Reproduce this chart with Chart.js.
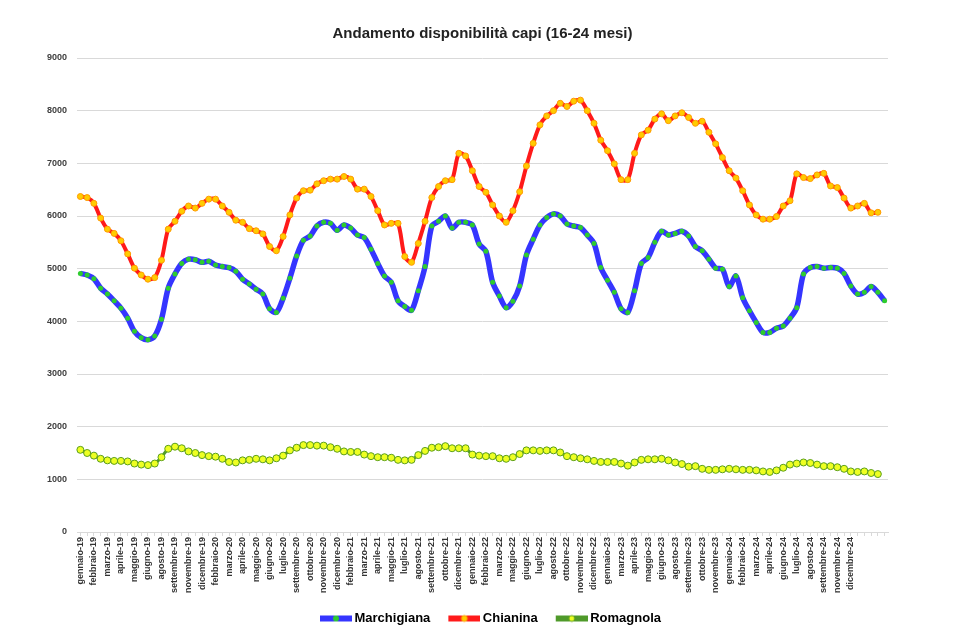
<!DOCTYPE html>
<html>
<head>
<meta charset="utf-8">
<script src="https://cdn.jsdelivr.net/npm/chart.js@4.4.1/dist/chart.umd.min.js"></script>
<style>
  body { margin: 0; background: #fff; }
  #wrap { width: 955px; height: 630px; }
</style>
</head>
<body>
<div id="wrap"><canvas id="chart" width="955" height="630"></canvas></div>
<script>
// etichette mensili (una ogni due rilevazioni)
const monthLabels = [
  'gennaio-19', 'febbraio-19', 'marzo-19', 'aprile-19', 'maggio-19', 'giugno-19', 'agosto-19', 'settembre-19', 'novembre-19', 'dicembre-19',
  'febbraio-20', 'marzo-20', 'aprile-20', 'maggio-20', 'giugno-20', 'luglio-20', 'settembre-20', 'ottobre-20', 'novembre-20', 'dicembre-20',
  'febbraio-21', 'marzo-21', 'aprile-21', 'maggio-21', 'luglio-21', 'agosto-21', 'settembre-21', 'ottobre-21', 'dicembre-21',
  'gennaio-22', 'febbraio-22', 'marzo-22', 'maggio-22', 'giugno-22', 'luglio-22', 'agosto-22', 'ottobre-22', 'novembre-22', 'dicembre-22',
  'gennaio-23', 'marzo-23', 'aprile-23', 'maggio-23', 'giugno-23', 'agosto-23', 'settembre-23', 'ottobre-23', 'novembre-23',
  'gennaio-24', 'febbraio-24', 'marzo-24', 'aprile-24', 'giugno-24', 'luglio-24', 'agosto-24', 'settembre-24', 'novembre-24', 'dicembre-24'
];
const pointCount = 120;

const marchigiana = [
  4910, 4880, 4810, 4630, 4520, 4390, 4250, 4060, 3810, 3690,
  3650, 3720, 4040, 4630, 4900, 5100, 5180, 5170, 5120, 5140,
  5070, 5040, 5020, 4950, 4800, 4710, 4610, 4520, 4240, 4170,
  4440, 4820, 5240, 5540, 5620, 5810, 5880, 5860, 5730, 5830,
  5770, 5640, 5590, 5370, 5100, 4860, 4740, 4390, 4280, 4210,
  4580, 5040, 5810, 5900, 6000, 5770, 5880, 5880, 5830, 5470,
  5330, 4740, 4480, 4260, 4380, 4670, 5260, 5560, 5830, 5970,
  6040, 6000, 5850, 5810, 5780, 5640, 5480, 5020, 4780, 4550,
  4240, 4170, 4580, 5100, 5210, 5500, 5710, 5640, 5670, 5710,
  5620, 5420, 5340, 5180, 5010, 4990, 4660, 4860, 4450, 4200,
  3980, 3790, 3790, 3870, 3910, 4060, 4260, 4900, 5020, 5040,
  5010, 5020, 5010, 4910, 4670, 4520, 4550, 4660, 4550, 4390
];
const chianina = [
  6370, 6350, 6240, 5960, 5750, 5670, 5530, 5280, 5010, 4880,
  4800, 4830, 5160, 5750, 5900, 6090, 6190, 6150, 6240, 6320,
  6320, 6190, 6070, 5920, 5880, 5760, 5720, 5660, 5420, 5340,
  5610, 6020, 6340, 6480, 6490, 6610, 6670, 6700, 6700, 6750,
  6700, 6510, 6510, 6370, 6100, 5830, 5860, 5860, 5230, 5120,
  5480, 5900, 6350, 6560, 6670, 6690, 7190, 7140, 6860, 6560,
  6450, 6210, 6000, 5880, 6100, 6460, 6950, 7380, 7730, 7900,
  8000, 8140, 8080, 8180, 8200, 8000, 7760, 7440, 7240, 6990,
  6690, 6690, 7190, 7540, 7630, 7840, 7940, 7810, 7900, 7960,
  7870, 7760, 7800, 7590, 7370, 7110, 6860, 6720, 6480, 6210,
  6020, 5940, 5940, 5990, 6190, 6290, 6800, 6730, 6710, 6780,
  6810, 6570, 6540, 6340, 6150, 6190, 6240, 6060, 6070
];
const romagnola = [
  1560, 1500, 1450, 1390, 1360, 1350, 1350, 1340, 1300, 1280,
  1270, 1300, 1420, 1580, 1620, 1590, 1530, 1500, 1460, 1440,
  1430, 1390, 1330, 1320, 1360, 1370, 1390, 1380, 1360, 1400,
  1450, 1550, 1600, 1650, 1650, 1640, 1640, 1610, 1580, 1530,
  1520, 1520, 1470, 1440, 1420, 1420, 1410, 1370, 1360, 1370,
  1460, 1540, 1600, 1610, 1630, 1590, 1590, 1590, 1470, 1450,
  1440, 1440, 1400, 1390, 1420, 1480, 1550, 1550, 1540, 1550,
  1550, 1510, 1440, 1420, 1400, 1380, 1350, 1330, 1330, 1330,
  1300, 1260, 1320, 1370, 1380, 1380, 1390, 1360, 1320, 1290,
  1240, 1250, 1200, 1180, 1180, 1190, 1200, 1190, 1180, 1180,
  1170, 1150, 1140, 1170, 1220, 1280, 1300, 1320, 1310, 1280,
  1250, 1250, 1230, 1200, 1150, 1140, 1150, 1120, 1100
];

const categories = [];
for (let i = 0; i < pointCount; i++) {
  categories.push(i % 2 === 0 && i / 2 < monthLabels.length ? monthLabels[i / 2] : '');
}

// simbolo legenda stile Excel: linea con marcatore (margine trasparente a sinistra)
function legendSwatch(lineColor, dotFill, dotStroke) {
  const c = document.createElement('canvas');
  c.width = 52; c.height = 12;
  const g = c.getContext('2d');
  g.strokeStyle = lineColor;
  g.lineWidth = 6;
  g.beginPath(); g.moveTo(20, 6); g.lineTo(52, 6); g.stroke();
  g.beginPath(); g.arc(36, 6, 3, 0, Math.PI * 2);
  g.fillStyle = dotFill; g.fill();
  if (dotStroke) { g.lineWidth = 1; g.strokeStyle = dotStroke; g.stroke(); }
  return c;
}

new Chart(document.getElementById('chart'), {
  type: 'line',
  data: {
    labels: categories,
    datasets: [
      {
        label: 'Marchigiana', data: marchigiana,
        borderColor: '#3535ff', borderWidth: 5.5, tension: 0.3,
        pointRadius: 2.5, pointBackgroundColor: '#2ecc2e', pointBorderWidth: 0,
        legendSwatch: legendSwatch('#3535ff', '#2ecc2e')
      },
      {
        label: 'Chianina', data: chianina,
        borderColor: '#ff1a1a', borderWidth: 4, tension: 0.3,
        pointRadius: 3, pointBackgroundColor: '#ffcc00', pointBorderColor: '#ff9a00', pointBorderWidth: 1,
        legendSwatch: legendSwatch('#ff1a1a', '#ffcc00', '#ff9a00')
      },
      {
        label: 'Romagnola', data: romagnola,
        borderColor: '#4f9a2a', borderWidth: 3, tension: 0.3,
        pointRadius: 3.5, pointBackgroundColor: '#eeff22', pointBorderColor: '#5a9e1c', pointBorderWidth: 1,
        legendSwatch: legendSwatch('#4f9a2a', '#eeff22', '#5a9e1c')
      }
    ]
  },
  options: {
    responsive: false,
    animation: false,
    layout: { padding: { left: 38, right: 67, top: 0, bottom: -5 } },
    scales: {
      x: {
        offset: true,
        grid: { drawOnChartArea: false, drawTicks: true, tickLength: 4, color: '#d9d9d9' },
        border: { display: true, color: '#d9d9d9' },
        ticks: {
          autoSkip: false, maxRotation: 90, minRotation: 90, padding: 1,
          color: '#333', font: { family: 'Liberation Sans', size: 9, weight: 'bold' }
        },
        afterFit: (scale) => { scale.height = 78; }
      },
      y: {
        min: 0, max: 9000,
        grid: { color: '#d9d9d9', drawTicks: false },
        border: { display: false },
        ticks: {
          stepSize: 1000, padding: 10,
          callback: (v) => String(v),
          color: '#404040', font: { family: 'Liberation Sans', size: 9, weight: 'bold' }
        },
        afterFit: (scale) => { scale.width = 39; }
      }
    },
    plugins: {
      title: {
        display: true,
        fullSize: false,
        text: 'Andamento disponibilità capi (16-24 mesi)',
        color: '#222',
        font: { family: 'Liberation Sans', size: 15, weight: 'bold' },
        padding: { top: 25, bottom: 15 }
      },
      legend: {
        position: 'bottom',
        fullSize: false,
        labels: {
          usePointStyle: true,
          pointStyleWidth: 44,
          padding: 2,
          color: '#222',
          font: { family: 'Liberation Sans', size: 13, weight: 'bold' },
          generateLabels: (chart) => chart.data.datasets.map((ds, i) => ({
            text: ds.label,
            pointStyle: ds.legendSwatch,
            datasetIndex: i,
            hidden: false,
            lineWidth: 0,
            fillStyle: ds.borderColor,
            strokeStyle: ds.borderColor
          }))
        }
      },
      tooltip: { enabled: false }
    }
  }
});
</script>
</body>
</html>
